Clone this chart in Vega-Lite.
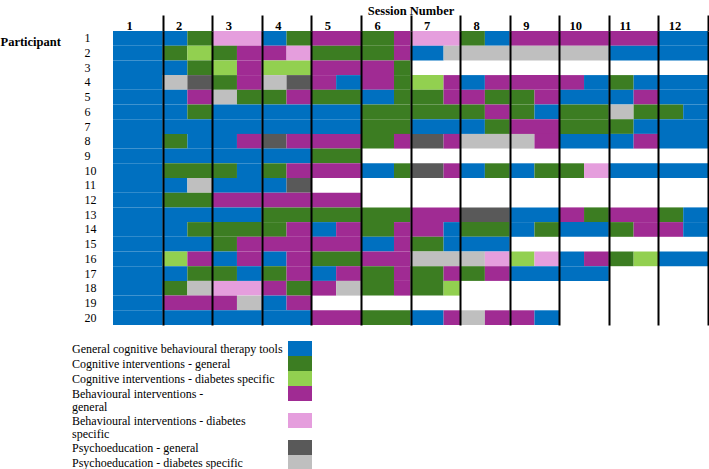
{
"$schema": "https://vega.github.io/schema/vega-lite/v6.json",
"autosize": {"type": "none"},
"padding": {"left": 113, "top": 31, "right": 1, "bottom": 144},
"width": 595,
"height": 294,
"background": "white",
"config": {"font": "Liberation Serif", "view": {"stroke": null}, "style": {"guide-label": {"lineHeight": 13}}},
"data": {"values": [
{"p":1,"a":0,"b":1,"c":"B"},{"p":1,"a":1,"b":1.5,"c":"B"},{"p":1,"a":1.5,"b":2,"c":"G"},{"p":1,"a":2,"b":3,"c":"K"},{"p":1,"a":3,"b":3.5,"c":"B"},{"p":1,"a":3.5,"b":4,"c":"G"},{"p":1,"a":4,"b":5,"c":"P"},{"p":1,"a":5,"b":5.667,"c":"G"},{"p":1,"a":5.667,"b":6,"c":"P"},{"p":1,"a":6,"b":7,"c":"K"},{"p":1,"a":7,"b":7.5,"c":"G"},{"p":1,"a":7.5,"b":8,"c":"B"},{"p":1,"a":8,"b":9,"c":"P"},{"p":1,"a":9,"b":10,"c":"P"},{"p":1,"a":10,"b":11,"c":"P"},{"p":1,"a":11,"b":12,"c":"B"},
{"p":2,"a":0,"b":1,"c":"B"},{"p":2,"a":1,"b":1.5,"c":"G"},{"p":2,"a":1.5,"b":2,"c":"L"},{"p":2,"a":2,"b":2.5,"c":"G"},{"p":2,"a":2.5,"b":3,"c":"P"},{"p":2,"a":3,"b":3.5,"c":"P"},{"p":2,"a":3.5,"b":4,"c":"K"},{"p":2,"a":4,"b":5,"c":"G"},{"p":2,"a":5,"b":5.667,"c":"G"},{"p":2,"a":5.667,"b":6,"c":"P"},{"p":2,"a":6,"b":6.667,"c":"B"},{"p":2,"a":6.667,"b":7,"c":"S"},{"p":2,"a":7,"b":8,"c":"S"},{"p":2,"a":8,"b":9,"c":"S"},{"p":2,"a":9,"b":10,"c":"S"},{"p":2,"a":10,"b":11,"c":"B"},{"p":2,"a":11,"b":12,"c":"B"},
{"p":3,"a":0,"b":1,"c":"B"},{"p":3,"a":1,"b":1.5,"c":"B"},{"p":3,"a":1.5,"b":2,"c":"G"},{"p":3,"a":2,"b":2.5,"c":"L"},{"p":3,"a":2.5,"b":3,"c":"P"},{"p":3,"a":3,"b":4,"c":"L"},{"p":3,"a":4,"b":5,"c":"P"},{"p":3,"a":5,"b":5.667,"c":"P"},{"p":3,"a":5.667,"b":6,"c":"G"},
{"p":4,"a":0,"b":1,"c":"B"},{"p":4,"a":1,"b":1.5,"c":"S"},{"p":4,"a":1.5,"b":2,"c":"D"},{"p":4,"a":2,"b":2.5,"c":"G"},{"p":4,"a":2.5,"b":3,"c":"P"},{"p":4,"a":3,"b":3.5,"c":"S"},{"p":4,"a":3.5,"b":4,"c":"D"},{"p":4,"a":4,"b":4.5,"c":"P"},{"p":4,"a":4.5,"b":5,"c":"B"},{"p":4,"a":5,"b":5.667,"c":"P"},{"p":4,"a":5.667,"b":6,"c":"G"},{"p":4,"a":6,"b":6.667,"c":"L"},{"p":4,"a":6.667,"b":7,"c":"P"},{"p":4,"a":7,"b":7.5,"c":"B"},{"p":4,"a":7.5,"b":8,"c":"P"},{"p":4,"a":8,"b":9,"c":"P"},{"p":4,"a":9,"b":9.5,"c":"P"},{"p":4,"a":9.5,"b":10,"c":"B"},{"p":4,"a":10,"b":10.5,"c":"G"},{"p":4,"a":10.5,"b":11,"c":"B"},{"p":4,"a":11,"b":12,"c":"B"},
{"p":5,"a":0,"b":1,"c":"B"},{"p":5,"a":1,"b":1.5,"c":"B"},{"p":5,"a":1.5,"b":2,"c":"P"},{"p":5,"a":2,"b":2.5,"c":"S"},{"p":5,"a":2.5,"b":3,"c":"G"},{"p":5,"a":3,"b":3.5,"c":"G"},{"p":5,"a":3.5,"b":4,"c":"P"},{"p":5,"a":4,"b":5,"c":"G"},{"p":5,"a":5,"b":5.667,"c":"B"},{"p":5,"a":5.667,"b":6,"c":"G"},{"p":5,"a":6,"b":6.667,"c":"G"},{"p":5,"a":6.667,"b":7,"c":"P"},{"p":5,"a":7,"b":7.5,"c":"P"},{"p":5,"a":7.5,"b":8,"c":"G"},{"p":5,"a":8,"b":8.5,"c":"G"},{"p":5,"a":8.5,"b":9,"c":"P"},{"p":5,"a":9,"b":10,"c":"B"},{"p":5,"a":10,"b":10.5,"c":"B"},{"p":5,"a":10.5,"b":11,"c":"P"},{"p":5,"a":11,"b":12,"c":"B"},
{"p":6,"a":0,"b":1,"c":"B"},{"p":6,"a":1,"b":1.5,"c":"B"},{"p":6,"a":1.5,"b":2,"c":"G"},{"p":6,"a":2,"b":3,"c":"B"},{"p":6,"a":3,"b":4,"c":"B"},{"p":6,"a":4,"b":5,"c":"B"},{"p":6,"a":5,"b":6,"c":"G"},{"p":6,"a":6,"b":7,"c":"G"},{"p":6,"a":7,"b":7.5,"c":"G"},{"p":6,"a":7.5,"b":8,"c":"P"},{"p":6,"a":8,"b":8.5,"c":"G"},{"p":6,"a":8.5,"b":9,"c":"B"},{"p":6,"a":9,"b":10,"c":"G"},{"p":6,"a":10,"b":10.5,"c":"S"},{"p":6,"a":10.5,"b":11,"c":"G"},{"p":6,"a":11,"b":11.5,"c":"G"},{"p":6,"a":11.5,"b":12,"c":"B"},
{"p":7,"a":0,"b":1,"c":"B"},{"p":7,"a":1,"b":2,"c":"B"},{"p":7,"a":2,"b":3,"c":"B"},{"p":7,"a":3,"b":4,"c":"B"},{"p":7,"a":4,"b":5,"c":"B"},{"p":7,"a":5,"b":6,"c":"G"},{"p":7,"a":6,"b":7,"c":"B"},{"p":7,"a":7,"b":7.5,"c":"B"},{"p":7,"a":7.5,"b":8,"c":"G"},{"p":7,"a":8,"b":9,"c":"P"},{"p":7,"a":9,"b":10,"c":"G"},{"p":7,"a":10,"b":10.5,"c":"G"},{"p":7,"a":10.5,"b":11,"c":"B"},{"p":7,"a":11,"b":12,"c":"B"},
{"p":8,"a":0,"b":1,"c":"B"},{"p":8,"a":1,"b":1.5,"c":"G"},{"p":8,"a":1.5,"b":2,"c":"B"},{"p":8,"a":2,"b":2.5,"c":"B"},{"p":8,"a":2.5,"b":3,"c":"P"},{"p":8,"a":3,"b":3.5,"c":"D"},{"p":8,"a":3.5,"b":4,"c":"P"},{"p":8,"a":4,"b":5,"c":"P"},{"p":8,"a":5,"b":5.667,"c":"G"},{"p":8,"a":5.667,"b":6,"c":"P"},{"p":8,"a":6,"b":6.667,"c":"D"},{"p":8,"a":6.667,"b":7,"c":"P"},{"p":8,"a":7,"b":8,"c":"S"},{"p":8,"a":8,"b":8.5,"c":"S"},{"p":8,"a":8.5,"b":9,"c":"P"},{"p":8,"a":9,"b":10,"c":"B"},{"p":8,"a":10,"b":10.5,"c":"B"},{"p":8,"a":10.5,"b":11,"c":"P"},{"p":8,"a":11,"b":12,"c":"B"},
{"p":9,"a":0,"b":1,"c":"B"},{"p":9,"a":1,"b":2,"c":"B"},{"p":9,"a":2,"b":3,"c":"B"},{"p":9,"a":3,"b":4,"c":"B"},{"p":9,"a":4,"b":5,"c":"G"},
{"p":10,"a":0,"b":1,"c":"B"},{"p":10,"a":1,"b":2,"c":"G"},{"p":10,"a":2,"b":2.5,"c":"G"},{"p":10,"a":2.5,"b":3,"c":"B"},{"p":10,"a":3,"b":3.5,"c":"G"},{"p":10,"a":3.5,"b":4,"c":"P"},{"p":10,"a":4,"b":5,"c":"P"},{"p":10,"a":5,"b":5.667,"c":"B"},{"p":10,"a":5.667,"b":6,"c":"G"},{"p":10,"a":6,"b":6.667,"c":"D"},{"p":10,"a":6.667,"b":7,"c":"P"},{"p":10,"a":7,"b":7.5,"c":"B"},{"p":10,"a":7.5,"b":8,"c":"G"},{"p":10,"a":8,"b":8.5,"c":"B"},{"p":10,"a":8.5,"b":9,"c":"G"},{"p":10,"a":9,"b":9.5,"c":"G"},{"p":10,"a":9.5,"b":10,"c":"K"},{"p":10,"a":10,"b":11,"c":"B"},{"p":10,"a":11,"b":12,"c":"B"},
{"p":11,"a":0,"b":1,"c":"B"},{"p":11,"a":1,"b":1.5,"c":"B"},{"p":11,"a":1.5,"b":2,"c":"S"},{"p":11,"a":2,"b":3,"c":"B"},{"p":11,"a":3,"b":3.5,"c":"B"},{"p":11,"a":3.5,"b":4,"c":"D"},
{"p":12,"a":0,"b":1,"c":"B"},{"p":12,"a":1,"b":2,"c":"G"},{"p":12,"a":2,"b":3,"c":"P"},{"p":12,"a":3,"b":4,"c":"P"},{"p":12,"a":4,"b":5,"c":"P"},
{"p":13,"a":0,"b":1,"c":"B"},{"p":13,"a":1,"b":2,"c":"B"},{"p":13,"a":2,"b":3,"c":"B"},{"p":13,"a":3,"b":4,"c":"G"},{"p":13,"a":4,"b":5,"c":"G"},{"p":13,"a":5,"b":6,"c":"G"},{"p":13,"a":6,"b":7,"c":"P"},{"p":13,"a":7,"b":8,"c":"D"},{"p":13,"a":8,"b":9,"c":"B"},{"p":13,"a":9,"b":9.5,"c":"P"},{"p":13,"a":9.5,"b":10,"c":"G"},{"p":13,"a":10,"b":11,"c":"P"},{"p":13,"a":11,"b":11.5,"c":"G"},{"p":13,"a":11.5,"b":12,"c":"B"},
{"p":14,"a":0,"b":1,"c":"B"},{"p":14,"a":1,"b":1.5,"c":"B"},{"p":14,"a":1.5,"b":2,"c":"G"},{"p":14,"a":2,"b":3,"c":"G"},{"p":14,"a":3,"b":3.5,"c":"G"},{"p":14,"a":3.5,"b":4,"c":"P"},{"p":14,"a":4,"b":4.5,"c":"B"},{"p":14,"a":4.5,"b":5,"c":"P"},{"p":14,"a":5,"b":5.667,"c":"G"},{"p":14,"a":5.667,"b":6,"c":"P"},{"p":14,"a":6,"b":6.667,"c":"P"},{"p":14,"a":6.667,"b":7,"c":"B"},{"p":14,"a":7,"b":8,"c":"G"},{"p":14,"a":8,"b":8.5,"c":"B"},{"p":14,"a":8.5,"b":9,"c":"G"},{"p":14,"a":9,"b":10,"c":"B"},{"p":14,"a":10,"b":10.5,"c":"G"},{"p":14,"a":10.5,"b":11,"c":"P"},{"p":14,"a":11,"b":11.5,"c":"P"},{"p":14,"a":11.5,"b":12,"c":"B"},
{"p":15,"a":0,"b":1,"c":"B"},{"p":15,"a":1,"b":2,"c":"B"},{"p":15,"a":2,"b":2.5,"c":"G"},{"p":15,"a":2.5,"b":3,"c":"P"},{"p":15,"a":3,"b":4,"c":"P"},{"p":15,"a":4,"b":5,"c":"P"},{"p":15,"a":5,"b":5.667,"c":"B"},{"p":15,"a":5.667,"b":6,"c":"P"},{"p":15,"a":6,"b":6.667,"c":"G"},{"p":15,"a":6.667,"b":7,"c":"B"},{"p":15,"a":7,"b":8,"c":"B"},
{"p":16,"a":0,"b":1,"c":"B"},{"p":16,"a":1,"b":1.5,"c":"L"},{"p":16,"a":1.5,"b":2,"c":"P"},{"p":16,"a":2,"b":2.5,"c":"B"},{"p":16,"a":2.5,"b":3,"c":"P"},{"p":16,"a":3,"b":3.5,"c":"B"},{"p":16,"a":3.5,"b":4,"c":"P"},{"p":16,"a":4,"b":5,"c":"G"},{"p":16,"a":5,"b":6,"c":"P"},{"p":16,"a":6,"b":7,"c":"S"},{"p":16,"a":7,"b":7.5,"c":"S"},{"p":16,"a":7.5,"b":8,"c":"K"},{"p":16,"a":8,"b":8.5,"c":"L"},{"p":16,"a":8.5,"b":9,"c":"K"},{"p":16,"a":9,"b":9.5,"c":"B"},{"p":16,"a":9.5,"b":10,"c":"P"},{"p":16,"a":10,"b":10.5,"c":"G"},{"p":16,"a":10.5,"b":11,"c":"L"},{"p":16,"a":11,"b":12,"c":"B"},
{"p":17,"a":0,"b":1,"c":"B"},{"p":17,"a":1,"b":1.5,"c":"B"},{"p":17,"a":1.5,"b":2,"c":"G"},{"p":17,"a":2,"b":2.5,"c":"G"},{"p":17,"a":2.5,"b":3,"c":"B"},{"p":17,"a":3,"b":3.5,"c":"G"},{"p":17,"a":3.5,"b":4,"c":"P"},{"p":17,"a":4,"b":4.5,"c":"B"},{"p":17,"a":4.5,"b":5,"c":"P"},{"p":17,"a":5,"b":5.667,"c":"G"},{"p":17,"a":5.667,"b":6,"c":"P"},{"p":17,"a":6,"b":6.667,"c":"G"},{"p":17,"a":6.667,"b":7,"c":"P"},{"p":17,"a":7,"b":7.5,"c":"G"},{"p":17,"a":7.5,"b":8,"c":"P"},{"p":17,"a":8,"b":9,"c":"B"},{"p":17,"a":9,"b":10,"c":"B"},
{"p":18,"a":0,"b":1,"c":"B"},{"p":18,"a":1,"b":1.5,"c":"G"},{"p":18,"a":1.5,"b":2,"c":"S"},{"p":18,"a":2,"b":3,"c":"K"},{"p":18,"a":3,"b":3.5,"c":"P"},{"p":18,"a":3.5,"b":4,"c":"G"},{"p":18,"a":4,"b":4.5,"c":"P"},{"p":18,"a":4.5,"b":5,"c":"S"},{"p":18,"a":5,"b":5.667,"c":"G"},{"p":18,"a":5.667,"b":6,"c":"P"},{"p":18,"a":6,"b":6.667,"c":"G"},{"p":18,"a":6.667,"b":7,"c":"L"},
{"p":19,"a":0,"b":1,"c":"B"},{"p":19,"a":1,"b":2,"c":"P"},{"p":19,"a":2,"b":2.5,"c":"P"},{"p":19,"a":2.5,"b":3,"c":"S"},{"p":19,"a":3,"b":3.5,"c":"B"},{"p":19,"a":3.5,"b":4,"c":"P"},
{"p":20,"a":0,"b":1,"c":"B"},{"p":20,"a":1,"b":2,"c":"B"},{"p":20,"a":2,"b":3,"c":"B"},{"p":20,"a":3,"b":4,"c":"B"},{"p":20,"a":4,"b":5,"c":"P"},{"p":20,"a":5,"b":6,"c":"G"},{"p":20,"a":6,"b":6.667,"c":"B"},{"p":20,"a":6.667,"b":7,"c":"P"},{"p":20,"a":7,"b":7.5,"c":"S"},{"p":20,"a":7.5,"b":8,"c":"P"},{"p":20,"a":8,"b":8.5,"c":"P"},{"p":20,"a":8.5,"b":9,"c":"B"}
]},
"mark": {"type": "rect"},
"encoding": {
  "x": {"field": "a", "type": "quantitative", "scale": {"domain": [0, 12], "nice": false, "zero": false},
    "axis": {"orient": "top", "values": [1,2,3,4,5,6,7,8,9,10,11,12], "title": "Session Number", "titleFontWeight": "bold", "titleFontSize": 12.5, "titleColor": "black", "titleY": -21, "titleBaseline": "middle",
      "domain": false, "ticks": true, "tickSize": 16, "tickWidth": 2, "tickColor": "black", "grid": true, "gridColor": "black", "gridWidth": 2, "gridOpacity": 1, "zindex": 1,
      "labelAlign": "center", "labelOffset": -33.5, "labelBaseline": "middle", "labelPadding": -10, "labelFontWeight": "bold", "labelFontSize": 12.5, "labelColor": "black", "labelFlush": false, "labelOverlap": false, "format": "d"}},
  "x2": {"field": "b"},
  "y": {"field": "p", "type": "ordinal", "scale": {"paddingInner": 0, "paddingOuter": 0},
    "axis": {"orient": "left", "title": "Participant", "titleAngle": 0, "titleAlign": "left", "titleBaseline": "middle", "titleX": -113, "titleY": 10, "titleFontWeight": "bold", "titleFontSize": 12.5, "titleColor": "black",
      "ticks": false, "domain": false, "labelAlign": "left", "labelPadding": 29, "labelFontSize": 12, "labelColor": "black", "labelBaseline": "middle"}},
  "color": {"field": "c", "type": "nominal",
    "scale": {"domain": ["B","G","L","P","K","D","S"], "range": ["#0070C0","#3C7D22","#92D050","#A02B93","#E59EDD","#595959","#BFBFBF"]},
    "legend": {"orient": "none", "legendX": 179.5, "legendY": 310, "title": null, "direction": "vertical", "columns": 1,
      "symbolType": "M-1.6,-1H1.6V1H-1.6Z", "symbolSize": 225, "symbolStrokeWidth": 0, "symbolOpacity": 1,
      "labelOffset": -235.5, "labelAlign": "left", "labelBaseline": "middle", "labelFontSize": 12, "labelLimit": 400, "labelColor": "black", "rowPadding": 0, "padding": 0,
      "labelExpr": "datum.value=='B'?'General cognitive behavioural therapy tools':datum.value=='G'?'Cognitive interventions - general':datum.value=='L'?'Cognitive interventions - diabetes specific':datum.value=='P'?['Behavioural interventions -','general']:datum.value=='K'?['Behavioural interventions - diabetes','specific']:datum.value=='D'?'Psychoeducation - general':'Psychoeducation - diabetes specific'"}}
}
}
